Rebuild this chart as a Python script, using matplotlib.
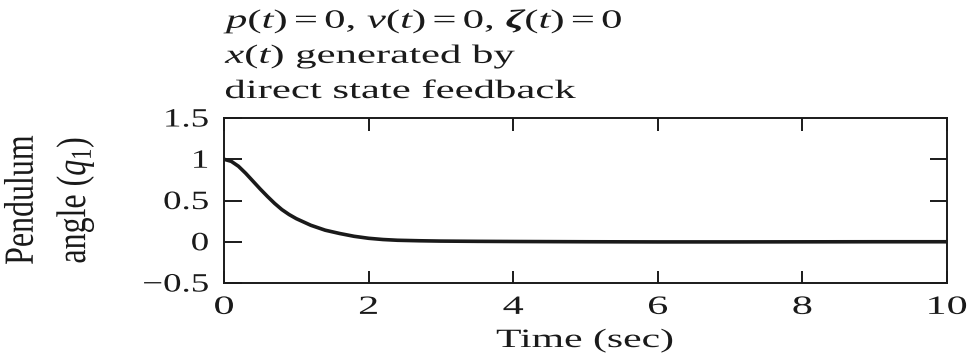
import numpy as np
import matplotlib as mpl
mpl.use('Agg')
from matplotlib import pyplot as plt
from matplotlib.patheffects import AbstractPathEffect
from matplotlib.transforms import Affine2D

# curve
tVals = [0.0, 0.1, 0.2, 0.3, 0.4, 0.5, 0.6, 0.7, 0.8, 0.9, 1.0, 1.2, 1.4, 1.6,
         1.8, 2.0, 2.2, 2.4, 2.7, 3.0, 3.5, 4.0, 5.0, 6.0, 7.0, 8.0, 9.0, 10.0]
q1Vals = [1.0, 0.975, 0.915, 0.83, 0.735, 0.64, 0.55, 0.465, 0.39, 0.33, 0.28, 0.20, 0.14, 0.10,
          0.066, 0.042, 0.027, 0.018, 0.012, 0.008, 0.005, 0.003, 0.0, -0.002, -0.002, -0.001, 0.0, 0.0]

xTicks = [0, 2, 4, 6, 8, 10]
yTicks = [-0.5, 0.0, 0.5, 1.0, 1.5]
yTickLabels = ['\u22120.5', '0', '0.5', '1', '1.5']

titleLines = [r'$p(t) = 0$, $v(t) = 0$, $\mathbfit{\zeta}(t) = 0$',
              r'$x(t)$ generated by',
              'direct state feedback']
yLabelLines = ['Pendulum', r'angle ($q_1$)']
xLabel = 'Time (sec)'

mpl.rcParams['font.family'] = 'serif'
mpl.rcParams['font.serif'] = ['Liberation Serif', 'DejaVu Serif']
mpl.rcParams['mathtext.fontset'] = 'custom'
mpl.rcParams['mathtext.rm'] = 'Liberation Serif'
mpl.rcParams['mathtext.it'] = 'Liberation Serif:italic'
mpl.rcParams['mathtext.bf'] = 'Liberation Serif:bold'
mpl.rcParams['mathtext.bfit'] = 'Liberation Serif:italic:bold'


class StretchX(AbstractPathEffect):
    '''
    the reference glyphs are wider than plain Times, so widen the
    rendered text horizontally around a chosen anchor of its ink
    '''
    def __init__(self, sx, anchor='left'):
        super().__init__()
        self.sx = sx
        self.anchor = anchor

    def draw_path(self, renderer, gc, tpath, affine, rgbFace=None):
        ext = tpath.get_extents(affine)
        if self.anchor == 'left':
            x0 = ext.x0
        elif self.anchor == 'right':
            x0 = ext.x1
        else:
            x0 = 0.5 * (ext.x0 + ext.x1)
        t = affine + Affine2D().translate(-x0, 0).scale(self.sx, 1.0).translate(x0, 0)
        renderer.draw_path(gc, tpath, t, rgbFace)


fs = 19
inkColor = '#1a1a1a'

W, H = 967, 354
f = plt.figure(figsize=(W / 100.0, H / 100.0), dpi=100)
# axes box in pixels: left 224, right 947, top 118, bottom 283
ax1 = f.add_axes([224 / W, 1 - 283 / H, (947 - 224) / W, (283 - 118) / H])

ax1.plot(tVals, q1Vals, color=inkColor, lw=2.6, solid_capstyle='round',
         solid_joinstyle='round', zorder=3)

ax1.set_xlim(0, 10)
ax1.set_ylim(-0.5, 1.5)
ax1.set_xticks(xTicks)
ax1.set_xticklabels([str(v) for v in xTicks])
ax1.set_yticks(yTicks)
ax1.set_yticklabels(yTickLabels)

for spine in ax1.spines.values():
    spine.set_linewidth(1.4)
    spine.set_color(inkColor)

ax1.tick_params(axis='x', which='major', direction='in', top=True, bottom=True,
                length=9.0, width=1.4, pad=10, labelsize=fs, color=inkColor,
                labelcolor=inkColor)
ax1.tick_params(axis='y', which='major', direction='in', left=True, right=True,
                length=12.6, width=1.4, pad=11, labelsize=fs, color=inkColor,
                labelcolor=inkColor)

for lbl in ax1.get_xticklabels():
    lbl.set_path_effects([StretchX(1.6, 'center')])
for lbl in ax1.get_yticklabels():
    lbl.set_path_effects([StretchX(1.4, 'right')])

# title block, left aligned above the axes (baselines in px)
titleBase = [28, 63, 98]
for line, yb in zip(titleLines, titleBase):
    f.text(225 / W, 1 - yb / H, line, fontsize=fs, ha='left', va='baseline',
           color=inkColor, path_effects=[StretchX(1.62, 'left')])

# y label, two rotated columns
for line, xc in zip(yLabelLines, [22, 75]):
    f.text(xc / W, 1 - 200 / H, line, fontsize=23, rotation=90,
           ha='center', va='center', color=inkColor,
           path_effects=[StretchX(1.3, 'center')])

# x label
f.text(585 / W, 1 - 347 / H, xLabel, fontsize=fs, ha='center', va='baseline',
       color=inkColor, path_effects=[StretchX(1.58, 'center')])

f.savefig('out.png', dpi=100)
plt.close(f)
